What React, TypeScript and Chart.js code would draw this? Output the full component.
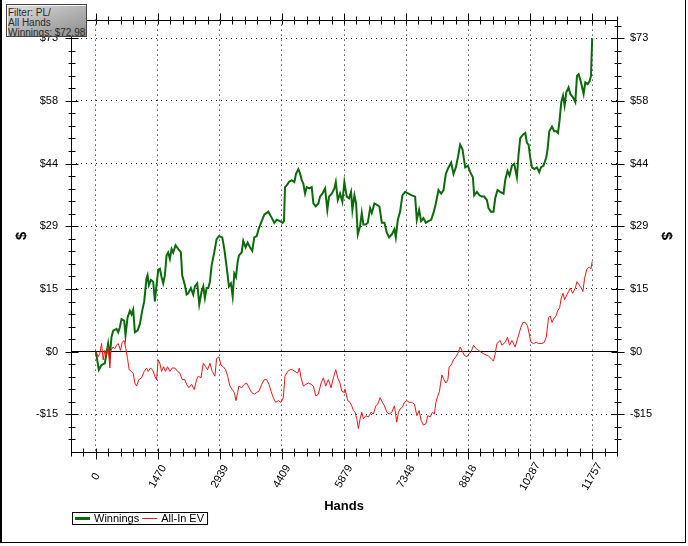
import { useEffect, useRef } from 'react';
import { Chart, registerables } from 'chart.js';

Chart.register(...registerables);

// ---- data ----
const seriesNames = ['Winnings', 'All-In EV'];

const winHands = [0, 71, 135, 213, 292, 332, 371, 411, 490, 530, 569, 609, 672, 703, 751, 806, 846, 885, 925, 988, 1043, 1098, 1146, 1201, 1225, 1257, 1304, 1359, 1399, 1438, 1478, 1517, 1557, 1596, 1636, 1675, 1714, 1754, 1794, 1833, 1889, 1952, 2015, 2046, 2110, 2150, 2189, 2252, 2307, 2347, 2402, 2450, 2505, 2545, 2584, 2624, 2663, 2703, 2743, 2805, 2861, 2916, 2995, 3043, 3083, 3122, 3153, 3201, 3241, 3280, 3320, 3359, 3390, 3454, 3493, 3549, 3597, 3651, 3706, 3753, 3810, 3865, 3929, 3990, 4047, 4085, 4149, 4228, 4284, 4363, 4426, 4457, 4481, 4521, 4576, 4640, 4702, 4742, 4797, 4837, 4877, 4916, 4956, 4996, 5058, 5114, 5153, 5209, 5271, 5311, 5366, 5430, 5484, 5524, 5589, 5650, 5684, 5731, 5785, 5840, 5887, 5944, 5999, 6046, 6077, 6125, 6165, 6205, 6259, 6300, 6338, 6395, 6442, 6497, 6537, 6599, 6656, 6718, 6774, 6836, 6893, 6947, 7011, 7073, 7106, 7153, 7208, 7262, 7326, 7405, 7485, 7563, 7603, 7658, 7706, 7760, 7817, 7879, 7943, 7998, 8054, 8116, 8180, 8235, 8291, 8353, 8417, 8472, 8528, 8576, 8630, 8685, 8749, 8813, 8868, 8931, 8962, 9026, 9088, 9145, 9200, 9263, 9302, 9359, 9420, 9460, 9515, 9579, 9657, 9697, 9752, 9799, 9856, 9911, 9974, 10013, 10053, 10117, 10172, 10212, 10250, 10290, 10330, 10385, 10448, 10503, 10543, 10605, 10669, 10700, 10741, 10805, 10859, 10907, 10947, 10985, 11025, 11066, 11104, 11144, 11198, 11239, 11302, 11357, 11397, 11435, 11492, 11554, 11594, 11649, 11697, 11729, 11757];
const winValues = [0, -4.2, -3.1, -2.7, 1.9, -1.2, 3.4, 4.9, 5.3, 4.5, 5.7, 7.6, 7.2, 3.8, 7.9, 9.5, 8.7, 9.8, 4.5, 4.9, 6.4, 9.5, 11.7, 17.1, 17.8, 15.5, 16.7, 16.3, 11.7, 15.5, 19.0, 19.3, 17.4, 15.9, 17.8, 22.4, 23.1, 21.6, 23.9, 23.1, 24.8, 23.9, 23.1, 17.8, 15.5, 13.3, 13.6, 14.8, 13.3, 15.2, 15.9, 11.0, 14.0, 15.2, 12.5, 14.8, 14.8, 16.3, 20.1, 23.1, 26.2, 26.9, 26.6, 23.9, 20.9, 17.8, 15.2, 15.9, 12.9, 18.2, 17.4, 20.9, 22.4, 23.1, 25.8, 24.3, 25.4, 24.3, 23.5, 26.6, 26.9, 28.8, 30.4, 31.9, 32.3, 32.6, 31.5, 30.0, 30.7, 30.4, 30.0, 30.4, 38.3, 38.7, 39.5, 39.9, 39.5, 41.4, 42.5, 41.5, 39.9, 39.1, 36.8, 38.3, 38.0, 38.3, 34.5, 33.8, 34.5, 36.1, 36.8, 38.0, 33.0, 36.1, 36.8, 38.0, 39.5, 35.3, 36.8, 34.9, 39.5, 36.1, 35.7, 37.2, 33.0, 36.4, 34.5, 27.3, 29.2, 32.3, 29.6, 29.6, 30.0, 33.4, 32.3, 34.5, 34.2, 33.8, 30.0, 30.0, 27.7, 26.6, 27.3, 28.5, 26.6, 30.7, 32.6, 36.4, 37.2, 36.8, 36.4, 36.1, 30.7, 33.0, 30.4, 31.1, 30.0, 30.4, 30.7, 32.3, 34.5, 37.6, 36.8, 37.6, 41.4, 42.9, 44.0, 41.4, 42.9, 45.2, 48.2, 47.1, 42.9, 43.3, 41.8, 40.6, 36.4, 37.2, 36.4, 36.1, 36.1, 35.3, 33.4, 32.6, 32.6, 35.7, 37.6, 37.2, 36.8, 39.9, 42.1, 41.0, 43.3, 43.7, 40.6, 45.9, 49.7, 50.5, 50.9, 48.6, 48.2, 45.2, 42.9, 42.5, 42.9, 41.8, 42.9, 43.3, 45.2, 47.1, 51.3, 52.4, 51.3, 51.3, 50.9, 53.9, 58.1, 59.6, 57.3, 60.4, 61.5, 60.0, 59.2, 58.1, 64.2, 64.6, 62.7, 60.0, 62.7, 62.3, 63.0, 64.2, 72.98];

const evHands = [0, 55, 95, 135, 174, 213, 253, 292, 332, 356, 411, 450, 490, 530, 585, 624, 672, 711, 751, 790, 846, 885, 925, 965, 1020, 1083, 1146, 1201, 1240, 1296, 1343, 1399, 1438, 1478, 1517, 1557, 1604, 1652, 1699, 1754, 1809, 1873, 1937, 1992, 2046, 2110, 2150, 2205, 2269, 2331, 2388, 2426, 2490, 2545, 2601, 2648, 2703, 2758, 2821, 2861, 2916, 2964, 3019, 3075, 3122, 3177, 3232, 3280, 3320, 3359, 3390, 3454, 3516, 3573, 3628, 3692, 3753, 3810, 3865, 3929, 3990, 4047, 4102, 4149, 4204, 4260, 4323, 4386, 4441, 4481, 4545, 4600, 4655, 4718, 4782, 4821, 4861, 4916, 4972, 5034, 5098, 5153, 5209, 5271, 5335, 5390, 5446, 5508, 5572, 5627, 5684, 5731, 5785, 5825, 5887, 5904, 5967, 6022, 6062, 6101, 6141, 6181, 6220, 6260, 6300, 6338, 6395, 6457, 6520, 6575, 6632, 6679, 6734, 6789, 6836, 6893, 6947, 7011, 7073, 7129, 7168, 7208, 7262, 7310, 7366, 7421, 7485, 7547, 7603, 7658, 7706, 7760, 7817, 7865, 7919, 7974, 8021, 8054, 8102, 8140, 8197, 8244, 8291, 8339, 8370, 8417, 8472, 8528, 8576, 8630, 8670, 8725, 8789, 8844, 8891, 8946, 9010, 9064, 9184, 9302, 9420, 9460, 9500, 9579, 9618, 9697, 9752, 9799, 9856, 9934, 10013, 10069, 10117, 10172, 10226, 10266, 10306, 10369, 10433, 10487, 10567, 10622, 10669, 10724, 10764, 10805, 10843, 10900, 10938, 10985, 11025, 11066, 11104, 11160, 11198, 11239, 11294, 11357, 11397, 11451, 11499, 11538, 11577, 11634, 11689, 11729, 11757];
const evValues = [0, -1.2, -0.4, 1.9, -1.9, 0.3, -0.8, 1.1, -3.8, 0.3, 1.1, 0.7, 1.5, 1.9, 0.3, 2.2, 2.6, 0.7, -1.6, -4.2, -4.6, -5.0, -7.3, -8.0, -6.5, -6.1, -4.6, -3.8, -4.6, -3.8, -4.2, -5.7, -6.5, -1.9, -2.7, -4.6, -3.5, -4.6, -3.5, -4.6, -3.8, -3.8, -4.6, -5.0, -6.5, -6.5, -7.6, -8.4, -7.6, -8.8, -6.5, -5.7, -6.1, -2.7, -3.5, -4.2, -2.7, -4.6, -5.7, -1.6, -1.2, -3.1, -3.5, -4.2, -5.7, -8.0, -8.8, -9.5, -11.4, -9.5, -8.0, -8.4, -7.6, -7.3, -8.4, -9.5, -9.9, -9.5, -9.2, -7.6, -6.5, -6.5, -7.6, -9.2, -10.7, -11.8, -11.4, -11.8, -10.7, -5.7, -4.6, -4.2, -4.2, -4.6, -5.0, -3.8, -6.1, -8.0, -7.6, -7.3, -7.6, -8.0, -10.3, -9.9, -7.3, -6.1, -8.0, -6.5, -8.4, -6.1, -4.2, -6.1, -7.3, -9.2, -9.5, -8.8, -11.4, -11.8, -12.6, -13.7, -14.1, -15.6, -17.9, -15.6, -14.1, -15.6, -14.9, -15.2, -14.1, -14.5, -12.6, -12.2, -10.7, -11.8, -12.6, -14.1, -14.5, -14.1, -12.6, -16.4, -14.1, -13.3, -12.9, -11.8, -11.4, -11.8, -11.8, -12.2, -14.9, -13.7, -16.0, -17.1, -16.8, -14.9, -15.2, -14.1, -14.5, -11.8, -10.3, -9.2, -5.4, -6.5, -7.3, -6.5, -3.5, -3.1, -1.9, -1.2, -0.4, 1.1, 0.3, -0.8, -1.2, -0.4, 0.0, 1.5, 0.7, 0.3, -0.5, -1.0, -2.2, -0.5, 1.9, 2.6, 1.5, 2.2, 3.4, 1.5, 2.6, 1.1, 3.8, 5.7, 6.8, 6.8, 6.0, 4.1, 2.2, 1.9, 2.2, 1.9, 1.9, 2.2, 3.4, 7.9, 8.3, 6.8, 7.6, 8.3, 9.5, 10.2, 12.5, 13.6, 12.1, 13.3, 14.0, 14.8, 13.6, 14.8, 16.3, 15.5, 14.8, 14.0, 17.1, 19.3, 19.7, 19.3, 21.0];

const xTickValues = [0, 1469.6, 2939.3, 4408.9, 5878.5, 7348.1, 8817.8, 10287.4, 11757];
const xTickLabels = ['0', '1470', '2939', '4409', '5879', '7348', '8818', '10287', '11757'];
const yTickValues = [-14.596, 0, 14.596, 29.192, 43.788, 58.384, 72.98];
const yTickLabels = ['-$15', '$0', '$15', '$29', '$44', '$58', '$73'];
const xRange = [-588, 12345];
const yRange = [-23.35, 77.3];
const xTitle = 'Hands';
const yTitle = '$';
const filterLines = ['Filter: PL/', 'All Hands', 'Winnings: $72,98'];

const FONT = '"Liberation Sans", Arial, sans-serif';
const GREEN = '#0b6b0b';
const RED = '#e81818';

const axisDecor = {
  id: 'axisDecor',
  afterDraw(chart: any) {
    const { ctx, chartArea: a, scales } = chart;
    const xs = scales.x;
    const ys = scales.y;
    const L = Math.round(a.left) + 0.5;
    const R = Math.round(a.right) + 0.5;
    const T = Math.round(a.top) + 0.5;
    const B = Math.round(a.bottom) + 0.5;
    ctx.save();
    ctx.strokeStyle = '#000';
    ctx.lineWidth = 1;
    ctx.beginPath();
    ctx.rect(L, T, R - L, B - T);
    const yStep = (yTickValues[yTickValues.length - 1] - yTickValues[0]) / (yTickValues.length - 1) / 5;
    const yk0 = Math.ceil(ys.min / yStep - 1e-6);
    const yk1 = Math.floor(ys.max / yStep + 1e-6);
    for (let k = yk0; k <= yk1; k++) {
      const py = Math.round(ys.getPixelForValue(k * yStep)) + 0.5;
      const len = k % 5 === 0 ? 6 : 3;
      ctx.moveTo(L - len, py); ctx.lineTo(L + len + 1, py);
      ctx.moveTo(R - len, py); ctx.lineTo(R + len + 1, py);
    }
    const xStep = (xTickValues[xTickValues.length - 1] - xTickValues[0]) / (xTickValues.length - 1) / 5;
    const xk0 = Math.ceil(xs.min / xStep - 1e-6);
    const xk1 = Math.floor(xs.max / xStep + 1e-6);
    for (let k = xk0; k <= xk1; k++) {
      const px = Math.round(xs.getPixelForValue(k * xStep)) + 0.5;
      const major = k % 5 === 0;
      ctx.moveTo(px, B - 4); ctx.lineTo(px, B + (major ? 7 : 4));
      ctx.moveTo(px, T + 4); ctx.lineTo(px, T - (major ? 7 : 4));
    }
    ctx.stroke();

    // x tick labels, rotated
    ctx.fillStyle = '#000';
    ctx.font = '11px ' + FONT;
    ctx.textAlign = 'center';
    ctx.textBaseline = 'middle';
    xTickValues.forEach((v, i) => {
      const px = xs.getPixelForValue(v);
      ctx.save();
      ctx.translate(px, B + 24);
      ctx.rotate(-Math.PI / 3);
      ctx.fillText(xTickLabels[i], 0, 0);
      ctx.restore();
    });

    // legend
    const ds = chart.data.datasets;
    const lx = 72, ly = 512, lh = 12;
    ctx.font = '11px ' + FONT;
    ctx.textAlign = 'left';
    let cx = lx + 3;
    ds.forEach((d: any) => {
      const tw = ctx.measureText(d.label).width;
      ctx.strokeStyle = d.borderColor;
      ctx.lineWidth = d.borderWidth + (d.borderWidth > 1 ? 1 : 0);
      ctx.beginPath();
      ctx.moveTo(cx, ly + lh / 2 + 0.5);
      ctx.lineTo(cx + 15, ly + lh / 2 + 0.5);
      ctx.stroke();
      ctx.fillStyle = '#000';
      ctx.fillText(d.label, cx + 19, ly + lh / 2 + 1);
      cx += 19 + tw + 3;
    });
    ctx.strokeStyle = '#000';
    ctx.lineWidth = 1;
    ctx.strokeRect(lx + 0.5, ly + 0.5, cx - lx, lh);
    ctx.restore();
  },
};

export default function App() {
  const ref = useRef<HTMLCanvasElement>(null);
  useEffect(() => {
    const yTicksBuild = (s: any) => {
      s.ticks = yTickValues.map((v) => ({ value: v }));
    };
    const yLabel = (_v: any, i: number) => yTickLabels[i];
    const chart = new Chart(ref.current as HTMLCanvasElement, {
      type: 'line',
      data: {
        datasets: [
          {
            label: seriesNames[0],
            data: winHands.map((h, i) => ({ x: h, y: winValues[i] })),
            borderColor: GREEN,
            borderWidth: 2,
            pointRadius: 0,
            tension: 0,
            order: 1,
          },
          {
            label: seriesNames[1],
            data: evHands.map((h, i) => ({ x: h, y: evValues[i] })),
            borderColor: RED,
            borderWidth: 1,
            pointRadius: 0,
            tension: 0,
            order: 0,
          },
        ],
      },
      options: {
        animation: false,
        responsive: false,
        events: [],
        layout: { padding: { top: 13, left: 0, right: 0, bottom: 0 } },
        plugins: { legend: { display: false }, tooltip: { enabled: false } },
        scales: {
          x: {
            type: 'linear',
            position: 'bottom',
            min: xRange[0],
            max: xRange[1],
            afterBuildTicks: (s: any) => {
              s.ticks = xTickValues.map((v) => ({ value: v }));
            },
            afterFit: (s: any) => {
              s.height = 94;
            },
            ticks: { display: false },
            grid: { color: '#000', lineWidth: 1, drawTicks: false },
            border: { display: false, dash: [1, 4] },
            title: {
              display: true,
              text: xTitle,
              color: '#000',
              font: { family: FONT, size: 13, weight: 'bold' },
              padding: { top: 0, bottom: 32 },
            },
          },
          y: {
            type: 'linear',
            position: 'left',
            min: yRange[0],
            max: yRange[1],
            afterBuildTicks: yTicksBuild,
            afterFit: (s: any) => {
              s.width = 71;
            },
            ticks: { callback: yLabel, color: '#000', padding: 13, font: { family: FONT, size: 11 } },
            grid: { color: '#000', lineWidth: 1, drawTicks: false },
            border: {
              display: false,
              dash: (c: any) => (c.tick && Math.abs(c.tick.value) < 1e-9 ? [] : [1, 4]),
            },
            title: {
              display: true,
              text: yTitle,
              color: '#000',
              font: { family: FONT, size: 15, weight: 'bold' },
              padding: { top: 13, bottom: 0 },
            },
          },
          y2: {
            type: 'linear',
            position: 'right',
            min: yRange[0],
            max: yRange[1],
            afterBuildTicks: yTicksBuild,
            afterFit: (s: any) => {
              s.width = 71;
            },
            ticks: { callback: yLabel, color: '#000', padding: 13, font: { family: FONT, size: 11 } },
            grid: { drawOnChartArea: false, drawTicks: false },
            border: { display: false },
            title: {
              display: true,
              text: yTitle,
              color: '#000',
              font: { family: FONT, size: 15, weight: 'bold' },
              padding: { top: 13, bottom: 0 },
            },
          },
        },
      } as any,
      plugins: [axisDecor],
    });
    return () => chart.destroy();
  }, []);

  return (
    <div style={{ position: 'absolute', left: 0, top: 0, width: 688, height: 546, background: '#fff', overflow: 'hidden' }}>
      <canvas ref={ref} width={688} height={546} style={{ display: 'block', width: 688, height: 546 }} />
      <div
        style={{
          position: 'absolute',
          left: 0,
          top: 0,
          width: 686,
          height: 543,
          borderLeft: '2px solid #000',
          borderBottom: '1px solid #000',
          borderRight: '1px solid #000',
          boxSizing: 'border-box',
          pointerEvents: 'none',
        }}
      />
      <div
        style={{
          position: 'absolute',
          left: 6,
          top: 4,
          width: 81,
          height: 33,
          boxSizing: 'border-box',
          border: '1px solid #444',
          background: 'linear-gradient(160deg, #e4e4e4 0%, #b8b8b8 45%, #8c8c8c 100%)',
          boxShadow: 'inset 1px 1px 0 #f4f4f4',
          color: '#2a2a2a',
          font: '10px "Liberation Sans", Arial, sans-serif',
          lineHeight: '10px',
          padding: '3px 0 0 1px',
          whiteSpace: 'nowrap',
          overflow: 'hidden',
        }}
      >
        {filterLines.map((l) => (
          <div key={l}>{l}</div>
        ))}
      </div>
    </div>
  );
}
